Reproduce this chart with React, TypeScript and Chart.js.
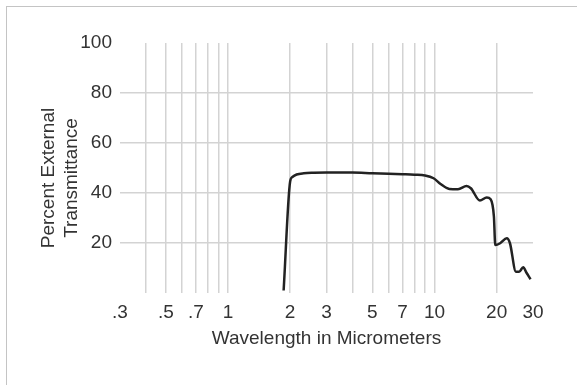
import { useEffect, useRef } from "react";
import { Chart, registerables } from "chart.js";

Chart.register(...registerables);

// Wavelength (µm) and percent external transmittance
const wavelengths = [1.86, 2.0, 2.05, 2.15, 2.33, 2.6, 3.0, 4.0, 5.0, 6.0, 7.0, 8.0, 9.0, 9.9, 10.7, 11.8, 13.0, 14.3, 15.0, 16.6, 17.9, 18.7, 19.4, 19.7, 20.8, 22.4, 23.2, 24.8, 25.7, 26.9, 27.9, 29.2];
const transmittance = [1, 44.6, 46.4, 47.4, 47.9, 48.1, 48.2, 48.2, 47.9, 47.7, 47.5, 47.3, 47.0, 45.9, 43.6, 41.6, 41.5, 42.8, 41.9, 37.0, 38.2, 37.5, 30.6, 19.2, 19.9, 21.9, 19.9, 8.5, 8.5, 10.3, 8.1, 5.5];

const xTickValues = [0.3, 0.4, 0.5, 0.6, 0.7, 0.8, 0.9, 1, 2, 3, 4, 5, 6, 7, 8, 9, 10, 20, 30];
const xLabelValues = [0.3, 0.5, 0.7, 1, 2, 3, 5, 7, 10, 20, 30];
const xLabelTexts = [".3", ".5", ".7", "1", "2", "3", "5", "7", "10", "20", "30"];
const xNoGrid = [0.3, 30];

const yTickValues = [0, 20, 40, 60, 80, 100];
const yTickTexts = ["", "20", "40", "60", "80", "100"];
const yNoGrid = [0, 100];

const xTitle = "Wavelength in Micrometers";
const yTitleLines = ["Percent External", "Transmittance"];

const FONT = "'Liberation Sans', Arial, sans-serif";
const TEXT = "#333333";
const GRID = "#d3d3d3";

const yTitlePlugin = {
  id: "yTitleCustom",
  afterDraw(chart: any) {
    const ctx = chart.ctx;
    const cy = (chart.chartArea.top + chart.chartArea.bottom) / 2 + 10;
    ctx.save();
    ctx.fillStyle = TEXT;
    ctx.font = `19px ${FONT}`;
    ctx.textAlign = "center";
    ctx.textBaseline = "alphabetic";
    yTitleLines.forEach((line, i) => {
      ctx.save();
      ctx.translate(54 + i * 22.5, cy);
      ctx.rotate(-Math.PI / 2);
      ctx.fillText(line, 0, 0);
      ctx.restore();
    });
    ctx.restore();
  },
};

export default function App() {
  const ref = useRef<HTMLCanvasElement | null>(null);

  useEffect(() => {
    if (!ref.current) return;
    const chart = new Chart(ref.current, {
      type: "line",
      data: {
        datasets: [
          {
            data: wavelengths.map((w, i) => ({ x: w, y: transmittance[i] })),
            borderColor: "#222222",
            borderWidth: 2.5,
            pointRadius: 0,
            fill: false,
            cubicInterpolationMode: "monotone",
          },
        ],
      },
      options: {
        animation: false,
        responsive: false,
        devicePixelRatio: 1,
        layout: { padding: { left: 0, right: 44, top: 43, bottom: 0 } },
        plugins: { legend: { display: false }, tooltip: { enabled: false } },
        scales: {
          x: {
            type: "logarithmic",
            min: 0.3,
            max: 30,
            afterBuildTicks: (scale: any) => {
              scale.ticks = xTickValues.map((v) => ({ value: v }));
            },
            afterFit: (scale: any) => {
              scale.height = 92;
            },
            ticks: {
              autoSkip: false,
              maxRotation: 0,
              padding: 8,
              color: TEXT,
              font: { family: FONT, size: 19 },
              callback: (value: any) => {
                const idx = xLabelValues.findIndex((v) => Math.abs(v - Number(value)) < 1e-9);
                return idx >= 0 ? xLabelTexts[idx] : "";
              },
            },
            grid: {
              drawTicks: false,
              lineWidth: 1.5,
              color: (ctx: any) =>
                ctx.tick && xNoGrid.some((v) => Math.abs(v - ctx.tick.value) < 1e-9) ? "rgba(0,0,0,0)" : GRID,
            },
            border: { display: false },
            title: {
              display: true,
              text: xTitle,
              color: TEXT,
              font: { family: FONT, size: 19 },
              padding: { top: 0, bottom: 35 },
            },
          },
          y: {
            min: 0,
            max: 100,
            afterBuildTicks: (scale: any) => {
              scale.ticks = yTickValues.map((v) => ({ value: v }));
            },
            afterFit: (scale: any) => {
              scale.width = 120;
            },
            ticks: {
              padding: 8,
              color: TEXT,
              font: { family: FONT, size: 19 },
              callback: (value: any) => {
                const idx = yTickValues.indexOf(Number(value));
                return idx >= 0 ? yTickTexts[idx] : "";
              },
            },
            grid: {
              drawTicks: false,
              lineWidth: 1.5,
              color: (ctx: any) =>
                ctx.tick && yNoGrid.includes(ctx.tick.value) ? "rgba(0,0,0,0)" : GRID,
            },
            border: { display: false },
          },
        },
      },
      plugins: [yTitlePlugin],
    } as any);
    return () => chart.destroy();
  }, []);

  return (
    <div style={{ position: "fixed", left: 0, top: 0, width: 577, height: 385, background: "#fff", overflow: "hidden" }}>
      <canvas ref={ref} width={577} height={385} style={{ position: "absolute", left: 0, top: 0, display: "block" }} />
      <div
        style={{
          position: "absolute",
          left: 6,
          top: 6,
          width: 640,
          height: 440,
          borderTop: "1.5px solid #c4c4c4",
          borderLeft: "1.5px solid #c4c4c4",
          pointerEvents: "none",
        }}
      />
    </div>
  );
}
